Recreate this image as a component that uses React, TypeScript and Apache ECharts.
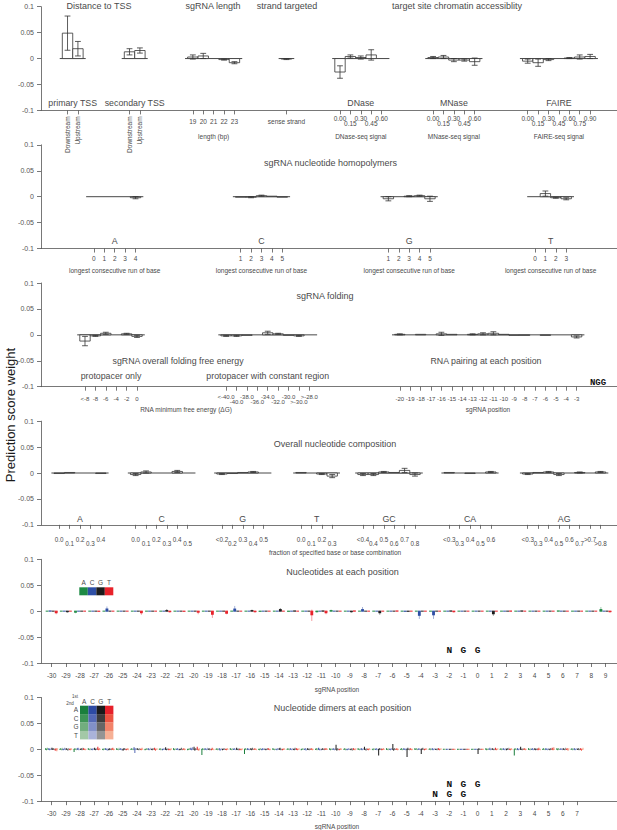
import React, { useEffect, useRef } from "react";
import * as echarts from "echarts";

// ---------------- DATA ----------------
// Panel 1 – Distance to TSS, sgRNA length, strand, chromatin accessibility
const primaryTssTicks = ["Downstream", "Upstream"];
const primaryTssValues = [0.049, 0.019];
const primaryTssErrors = [0.033, 0.014];
const secondaryTssTicks = ["Downstream", "Upstream"];
const secondaryTssValues = [0.013, 0.0155];
const secondaryTssErrors = [0.006, 0.005];
const lengthTicks = ["19", "20", "21", "22", "23"];
const lengthValues = [0.003, 0.005, 0.0, -0.002, -0.008];
const lengthErrors = [0.004, 0.005, 0, 0.001, 0.002];
const strandTicks = ["sense strand"];
const strandValues = [-0.001];
const strandErrors = [0.001];
const dnaseTicks = ["0.00", "0.15", "0.30", "0.45", "0.60"];
const dnaseValues = [-0.026, 0.004, 0.002, 0.007, 0.0];
const dnaseErrors = [0.012, 0.003, 0.003, 0.01, 0];
const mnaseTicks = ["0.00", "0.15", "0.30", "0.45", "0.60"];
const mnaseValues = [0.002, 0.003, -0.003, -0.003, -0.006];
const mnaseErrors = [0.002, 0.003, 0.003, 0.002, 0.007];
const faireTicks = ["0.00", "0.15", "0.30", "0.45", "0.60", "0.75", "0.90"];
const faireValues = [-0.005, -0.008, -0.002, 0.0, 0.001, 0.003, 0.004];
const faireErrors = [0.004, 0.007, 0.002, 0, 0.001, 0.004, 0.004];

// Panel 2 – homopolymers
const homoATicks = ["0", "1", "2", "3", "4"];
const homoAValues = [0, 0, 0, 0, -0.002];
const homoAErrors = [0, 0, 0, 0, 0.002];
const homoCTicks = ["1", "2", "3", "4", "5"];
const homoCValues = [-0.001, -0.001, 0.002, 0.001, -0.001];
const homoCErrors = [0, 0.001, 0.001, 0, 0];
const homoGTicks = ["1", "2", "3", "4", "5"];
const homoGValues = [-0.004, 0, 0.001, 0.002, -0.004];
const homoGErrors = [0.004, 0, 0.001, 0.001, 0.005];
const homoTTicks = ["0", "1", "2", "3"];
const homoTValues = [0, 0.006, -0.002, -0.004];
const homoTErrors = [0, 0.005, 0.001, 0.002];

// Panel 3 – folding
const foldOnlyTicks = ["<-8", "-8", "-6", "-4", "-2", "0"];
const foldOnlyValues = [-0.012, -0.002, 0.003, 0, 0.002, -0.003];
const foldOnlyErrors = [0.009, 0.001, 0.002, 0, 0.001, 0.002];
const foldConstTicks = ["<-40.0", "-40.0", "-38.0", "-36.0", "-34.0", "-32.0", "-30.0", ">-30.0", ">-28.0"];
const foldConstValues = [-0.002, -0.002, -0.001, 0, 0.004, 0.002, -0.001, -0.002, 0];
const foldConstErrors = [0.001, 0.001, 0, 0, 0.003, 0.001, 0, 0.001, 0];
const pairingTicks = ["-20", "-19", "-18", "-17", "-16", "-15", "-14", "-13", "-12", "-11", "-10", "-9", "-8", "-7", "-6", "-5", "-4", "-3"];
const pairingValues = [0.001, 0, 0.001, 0, 0.002, 0.001, 0, 0.001, 0.002, 0.003, 0.001, -0.001, -0.001, 0, -0.001, 0, 0, -0.004];
const pairingErrors = [0.001, 0, 0, 0, 0.003, 0, 0, 0.001, 0.002, 0.003, 0, 0, 0, 0, 0, 0, 0, 0.002];

// Panel 4 – overall composition
const compATicks = ["0.0", "0.1", "0.2", "0.3", "0.4"];
const compAValues = [-0.001, 0.001, 0, 0, -0.001];
const compAErrors = [0, 0, 0, 0, 0];
const compCTicks = ["0.0", "0.1", "0.2", "0.3", "0.4", "0.5"];
const compCValues = [-0.003, 0.002, 0, 0, 0.003, 0];
const compCErrors = [0.002, 0.002, 0, 0, 0.002, 0];
const compGTicks = ["<0.2", "0.2", "0.3", "0.4", "0.5"];
const compGValues = [-0.002, -0.001, 0.001, 0.002, 0];
const compGErrors = [0.001, 0, 0, 0.001, 0];
const compTTicks = ["0.0", "0.1", "0.2", "0.3"];
const compTValues = [0.001, 0, -0.002, -0.006];
const compTErrors = [0, 0, 0.001, 0.003];
const compGCTicks = ["<0.4", "0.4", "0.5", "0.6", "0.7", "0.8"];
const compGCValues = [-0.003, -0.003, 0.002, 0.001, 0.005, -0.003];
const compGCErrors = [0.002, 0.002, 0.001, 0, 0.004, 0.003];
const compCATicks = ["<0.3", "0.3", "0.4", "0.5", "0.6"];
const compCAValues = [0.001, 0, -0.001, 0, 0.002];
const compCAErrors = [0, 0, 0, 0, 0.001];
const compAGTicks = ["<0.3", "0.3", "0.4", "0.5", "0.6", "0.7", ">0.7", ">0.8"];
const compAGValues = [-0.002, 0.001, 0.002, -0.003, 0, 0.001, 0, 0.002];
const compAGErrors = [0.001, 0, 0.001, 0.002, 0, 0.001, 0, 0.001];

// Panel 5 – nucleotides at each position
const nucLetters = ["A", "C", "G", "T"];
const nucPositions = [-30, -29, -28, -27, -26, -25, -24, -23, -22, -21, -20, -19, -18, -17, -16, -15, -14, -13, -12, -11, -10, -9, -8, -7, -6, -5, -4, -3, -2, -1, 0, 1, 2, 3, 4, 5, 6, 7, 8, 9];
const nucAValues = [0, 0, -0.003, 0, 0, 0, 0, 0, 0, 0, 0, 0, 0, 0, 0, -0.001, 0, -0.001, 0, -0.002, 0.002, 0, 0, 0, 0, 0, 0, 0, 0, 0, 0, 0, 0, 0, 0, 0, 0.001, 0, 0, 0.004];
const nucCValues = [0.001, 0, 0, 0, 0.005, 0, 0, 0, 0, 0, 0, 0, 0, 0.005, 0, 0, 0, 0, 0, 0, 0, 0, 0.004, 0, 0, -0.001, -0.009, -0.008, 0, 0, 0, 0, 0, 0, 0, 0, 0, 0, 0, 0];
const nucGValues = [0, -0.002, 0, 0, 0, 0, 0, 0, 0.002, 0, 0, 0, 0, 0, 0.002, 0, 0.004, 0.001, 0, 0.001, 0, -0.002, 0, -0.004, 0, -0.001, 0, 0, 0.001, 0, 0, -0.006, 0, 0.001, 0, 0, 0, 0, 0, 0];
const nucTValues = [-0.004, 0, 0, -0.001, 0, 0, -0.004, 0, -0.002, -0.001, -0.003, -0.007, -0.005, 0, -0.002, 0, 0, 0, -0.008, -0.004, 0, 0.001, 0, 0, 0.001, 0, 0, 0, -0.002, 0, 0, 0, 0.001, 0, 0, 0, 0, 0, 0, -0.002];
const nucAErrors = [0, 0, 0.001, 0, 0, 0, 0, 0, 0, 0, 0, 0, 0, 0, 0, 0, 0, 0, 0, 0.001, 0.001, 0, 0, 0, 0, 0, 0, 0, 0, 0, 0, 0, 0, 0, 0, 0, 0, 0, 0, 0.004];
const nucCErrors = [0, 0, 0, 0, 0.004, 0, 0, 0, 0, 0, 0, 0, 0, 0.005, 0, 0, 0, 0, 0, 0, 0, 0, 0.004, 0, 0, 0, 0.006, 0.007, 0, 0, 0, 0, 0, 0, 0, 0, 0, 0, 0, 0];
const nucGErrors = [0, 0.001, 0, 0, 0, 0, 0, 0, 0.002, 0, 0, 0, 0, 0, 0.001, 0, 0.002, 0, 0, 0, 0, 0.001, 0, 0.003, 0, 0, 0, 0, 0, 0, 0, 0.003, 0, 0, 0, 0, 0, 0, 0, 0];
const nucTErrors = [0.002, 0, 0, 0, 0, 0, 0.003, 0, 0.001, 0, 0.003, 0.006, 0.001, 0, 0.001, 0, 0, 0, 0.011, 0.002, 0, 0, 0, 0, 0, 0, 0, 0, 0.001, 0, 0, 0, 0, 0, 0, 0, 0, 0, 0, 0.001];
const pamLetters = ["N", "G", "G"];
const pamPositions = [-2, -1, 0];

// Panel 6 – dimers at each position (weights x 1000); order AA AC AG AT CA CC CG CT GA GC GG GT TA TC TG TT
const dimerPositions = [-30, -29, -28, -27, -26, -25, -24, -23, -22, -21, -20, -19, -18, -17, -16, -15, -14, -13, -12, -11, -10, -9, -8, -7, -6, -5, -4, -3, -2, -1, 0, 1, 2, 3, 4, 5, 6, 7];
const dimerWeightsMilli = [
  [2, -2, 3, 0, 2, -2, 0, 3, 3, -1, 2, 0, -3, 2, -4, 2],
  [0, 2, -2, 3, -2, 0, 3, -2, 2, 0, -3, 2, 0, -2, 2, 0],
  [-5, 2, 0, -2, 2, 3, -2, 0, 0, 2, -2, 3, 2, 0, -2, 0],
  [2, 0, -2, 2, 0, -2, 2, 0, 3, -2, 0, 2, 5, -2, 2, 0],
  [0, -2, 2, 0, 2, 0, -3, 2, -2, 2, 0, -2, 2, 3, -2, 0],
  [2, 0, -2, 3, 0, 2, -2, 0, -3, 2, 2, 0, -2, 0, 2, -2],
  [0, 2, 0, -2, 4, -7, 2, 0, 2, 0, -2, 2, 0, -2, 3, 0],
  [-2, 0, 2, 0, 2, -2, 0, 3, 0, -2, 2, 0, 3, -3, 0, 2],
  [0, 2, -2, 0, -2, 0, 2, 0, 4, -2, 0, 2, -2, 0, -2, 2],
  [2, -2, 0, 2, 0, 2, -2, 0, -2, 0, 3, -2, 0, 2, -2, 0],
  [-2, 0, 2, 0, 3, -2, 4, 0, 5, -3, 2, 0, 5, -2, -3, 2],
  [-11, 2, 0, -2, 2, 0, -2, 3, 0, 2, -2, 0, -2, 3, 0, -2],
  [0, 2, -2, 0, 2, -3, 0, 2, -2, 0, 2, 0, 0, -2, 2, 0],
  [2, 0, -2, 2, 0, 2, 0, -2, 3, 0, -2, 2, -2, 0, -2, 2],
  [-9, 2, 0, -2, 2, 0, -2, 0, 2, -2, 3, 0, 0, 2, 0, -2],
  [0, -2, 2, 0, -2, 2, 0, 2, 0, -2, 0, 2, 2, 0, -2, 0],
  [2, 0, -2, 0, 0, -2, 2, 0, 2, 3, -2, 0, -2, 0, 2, 0],
  [0, 2, 0, -2, 2, 0, -2, 2, 0, -2, 3, 0, 2, -2, 0, 2],
  [-2, 0, 2, 0, 0, 2, -3, 0, 2, 0, -2, 2, 0, 2, -2, 0],
  [0, 2, -2, 2, 3, -2, 0, -3, 0, 2, 0, -2, 2, 0, 2, 0],
  [2, -2, 0, 2, 0, 2, -2, 0, 9, -3, 2, 0, -2, 0, 2, 0],
  [0, 2, -2, 0, -2, 0, 2, 0, 0, -2, 2, -3, 2, 0, -2, 2],
  [2, 0, -2, 0, 2, -2, 0, 2, 5, 0, -3, 2, 0, -2, 2, 0],
  [0, -2, 2, 0, 0, 2, -2, 0, -12, 2, 0, 2, -2, 0, 2, 0],
  [2, 0, -2, 2, 0, -2, 2, 0, 10, -3, 2, 0, 0, 2, -2, 0],
  [0, 2, -2, 0, 2, 0, -2, 2, -15, 3, 0, -2, 2, 0, -2, 0],
  [2, 0, 2, -2, 0, 2, 0, -2, -9, 2, 3, 0, -2, 0, 2, 0],
  [0, 2, -2, 0, 2, -2, 0, 2, 0, 0, -2, 2, 2, -2, 0, 2],
  [0, 0, 0, 0, 0, 0, 0, 0, 0, 0, 0, 0, 0, 0, 0, 0],
  [0, 0, 0, 0, 0, 0, 0, 0, 0, 0, 0, 0, 0, 0, 0, 0],
  [0, 0, 0, 0, 0, 0, 0, 0, -9, 2, 0, 0, 0, 0, 0, 0],
  [2, -2, 0, 2, 0, 3, -2, 0, 2, 0, -2, 0, 3, -2, 0, 2],
  [0, 2, -2, 0, 2, 0, -2, 2, -2, 2, 0, 3, 0, -2, 2, 0],
  [-12, 2, 0, -2, 2, -2, 0, 2, 5, 0, -2, 2, 0, 2, -2, 0],
  [2, 0, -2, 2, 0, 2, -2, 0, 2, -2, 0, 2, -2, 3, 0, -2],
  [0, 2, 0, -2, 2, 0, -2, 2, 0, -2, 2, 0, 3, -2, 4, 0],
  [2, -2, 2, 0, 0, 2, 0, -2, 2, 0, -2, 3, 0, 2, -3, 2],
  [0, 2, -2, 0, 2, -2, 0, 2, 0, 2, -2, 0, 2, -3, 0, 3],
];
const dimerPamRow1Positions = [-2, -1, 0];
const dimerPamRow2Positions = [-3, -2, -1];

// ---------------- STYLE / LAYOUT ----------------
const FONT = "'Liberation Sans', Arial, sans-serif";
const TXT = "#4a4a4a";
const AX = "#555";
const GRID_TOPS = [6.7, 144.85, 283, 421.15, 559.3, 697.45];
const GRID_H = 103.7;
const LEFT = 41;
const PLOT_W = 576;
const BAR_PX = 10.4;
const POS_PX = 14.2;
const BAR_MAX = PLOT_W / BAR_PX;
const POS_MIN = -30.75;
const POS_MAX = POS_MIN + PLOT_W / POS_PX;
const NUC_COLORS = ["#1e8a44", "#2e4fa5", "#1c1c1c", "#e8222a"];
const DIMER_COLORS = [
  ["#1a7f3c", "#3f9456", "#72ad7e", "#a3c8a7"],
  ["#2d4aa3", "#5469b6", "#8190c8", "#aab3da"],
  ["#1a1a1a", "#3c3c3c", "#666666", "#949494"],
  ["#e6202a", "#ec5442", "#f2836a", "#f6b095"],
];

type Grp = {
  name?: string; sub?: string; ticks: string[]; values: number[]; errors: number[];
  start: number; stagger?: boolean; rotate?: boolean;
};
type BarPanel = { labelLevel: number; L: number; m: number; fs: number; subOffset: number; groups: Grp[] };

const barPanels: BarPanel[] = [
  {
    labelLevel: -0.086, L: 5.7, m: 5, fs: 6.5, subOffset: 25.6,
    groups: [
      { name: "primary TSS", ticks: primaryTssTicks, values: primaryTssValues, errors: primaryTssErrors, start: 2.55, rotate: true },
      { name: "secondary TSS", ticks: secondaryTssTicks, values: secondaryTssValues, errors: secondaryTssErrors, start: 8.51, rotate: true },
      { sub: "length (bp)", ticks: lengthTicks, values: lengthValues, errors: lengthErrors, start: 14.6 },
      { ticks: strandTicks, values: strandValues, errors: strandErrors, start: 23.6 },
      { name: "DNase", sub: "DNase-seq signal", ticks: dnaseTicks, values: dnaseValues, errors: dnaseErrors, start: 28.75, stagger: true },
      { name: "MNase", sub: "MNase-seq signal", ticks: mnaseTicks, values: mnaseValues, errors: mnaseErrors, start: 37.7, stagger: true },
      { name: "FAIRE", sub: "FAIRE-seq signal", ticks: faireTicks, values: faireValues, errors: faireErrors, start: 46.8, stagger: true },
    ],
  },
  {
    labelLevel: -0.086, L: 5, m: 5, fs: 6.5, subOffset: 21.5,
    groups: [
      { name: "A", sub: "longest consecutive run of base", ticks: homoATicks, values: homoAValues, errors: homoAErrors, start: 5.09 },
      { name: "C", sub: "longest consecutive run of base", ticks: homoCTicks, values: homoCValues, errors: homoCErrors, start: 19.2 },
      { name: "G", sub: "longest consecutive run of base", ticks: homoGTicks, values: homoGValues, errors: homoGErrors, start: 33.4 },
      { name: "T", sub: "longest consecutive run of base", ticks: homoTTicks, values: homoTValues, errors: homoTErrors, start: 47.5 },
    ],
  },
  {
    labelLevel: -0.08, L: 5.2, m: 7.6, fs: 6, subOffset: 21,
    groups: [
      { name: "protopacer only", ticks: foldOnlyTicks, values: foldOnlyValues, errors: foldOnlyErrors, start: 4.23 },
      { name: "protopacer with constant region", ticks: foldConstTicks, values: foldConstValues, errors: foldConstErrors, start: 17.8, stagger: true },
      { ticks: pairingTicks, values: pairingValues, errors: pairingErrors, start: 34.5 },
    ],
  },
  {
    labelLevel: -0.088, L: 3.4, m: 13.3, fs: 6.3, subOffset: 27,
    groups: [
      { name: "A", ticks: compATicks, values: compAValues, errors: compAErrors, start: 1.75, stagger: true },
      { name: "C", ticks: compCTicks, values: compCValues, errors: compCErrors, start: 9.1, stagger: true },
      { name: "G", ticks: compGTicks, values: compGValues, errors: compGErrors, start: 17.4, stagger: true },
      { name: "T", ticks: compTTicks, values: compTValues, errors: compTErrors, start: 25, stagger: true },
      { name: "GC", ticks: compGCTicks, values: compGCValues, errors: compGCErrors, start: 30.96, stagger: true },
      { name: "CA", ticks: compCATicks, values: compCAValues, errors: compCAErrors, start: 39.25, stagger: true },
      { name: "AG", ticks: compAGTicks, values: compAGValues, errors: compAGErrors, start: 46.8, stagger: true },
    ],
  },
];

const textStyle = (text: string, size: number, extra: any = {}) => ({
  text, fontSize: size, fontFamily: FONT, fill: TXT,
  align: "center", verticalAlign: "middle", textAlign: "center", textVerticalAlign: "middle",
  ...extra,
});
const seg = (x1: number, y1: number, x2: number, y2: number, stroke: string, lineWidth: number, opacity = 1) => ({
  type: "line", shape: { x1, y1, x2, y2 }, style: { stroke, lineWidth, opacity },
});

function buildOption() {
  const grids = GRID_TOPS.map((t) => ({ left: LEFT, right: 0, top: t, height: GRID_H }));

  const yAxes = GRID_TOPS.map((_, i) => ({
    gridIndex: i, type: "value", min: -0.1, max: 0.1, interval: 0.05,
    axisLine: { show: true, onZero: false, lineStyle: { color: AX, width: 0.8 } },
    axisTick: { show: true, length: 4, lineStyle: { color: AX, width: 0.8 } },
    splitLine: { show: false },
    axisLabel: {
      fontSize: 7, color: "#555", fontFamily: FONT, margin: 7, showMinLabel: true, showMaxLabel: true,
      formatter: (v: number) => { const r = Math.round(v * 100) / 100; return r === 0 ? "0" : String(r); },
    },
  }));

  const baseX = (gridIndex: number, min: number, max: number) => ({
    gridIndex, type: "value", min, max, position: "bottom",
    axisLine: { show: true, onZero: false, lineStyle: { color: AX, width: 0.8 } },
    splitLine: { show: false },
  });
  const labelOnlyX = (gridIndex: number, vals: number[], map: Record<string, string>, extra: any) => ({
    ...baseX(gridIndex, 0, BAR_MAX),
    axisLine: { show: false, onZero: false },
    axisTick: { show: false },
    axisLabel: {
      customValues: vals, color: TXT, fontFamily: FONT, showMinLabel: true, showMaxLabel: true,
      formatter: (v: number) => map[(+v).toFixed(3)] || "",
      ...extra,
    },
  });

  const xAxes: any[] = [];
  const panelXIndex: number[] = [];
  barPanels.forEach((p, pi) => {
    const tickVals: number[] = [];
    const labVals: number[] = [];
    const labMap: Record<string, string> = {};
    const lowVals: number[] = [];
    const lowMap: Record<string, string> = {};
    const rotVals: number[] = [];
    const rotMap: Record<string, string> = {};
    p.groups.forEach((g) => g.ticks.forEach((t, k) => {
      const x = +(g.start + k).toFixed(3);
      const key = x.toFixed(3);
      tickVals.push(x);
      if (g.rotate) { rotVals.push(x); rotMap[key] = t; }
      else if (g.stagger && k % 2) { lowVals.push(x); lowMap[key] = t; }
      else { labVals.push(x); labMap[key] = g.stagger ? "{a|" + t + "}" : "{s|" + t + "}"; }
    }));
    panelXIndex.push(xAxes.length);
    xAxes.push({
      ...baseX(pi, 0, BAR_MAX),
      axisTick: { show: true, customValues: tickVals, length: 4, lineStyle: { color: AX, width: 0.8 } },
      axisLabel: {
        customValues: labVals, margin: p.m, lineHeight: p.L, fontSize: p.fs, color: TXT, fontFamily: FONT,
        showMinLabel: true, showMaxLabel: true,
        formatter: (v: number) => labMap[(+v).toFixed(3)] || "",
        rich: {
          a: { fontSize: p.fs, lineHeight: p.L, color: TXT, fontFamily: FONT },
          s: { fontSize: p.fs, lineHeight: p.L * 2, color: TXT, fontFamily: FONT },
        },
      },
    });
    if (lowVals.length) {
      xAxes.push(labelOnlyX(pi, lowVals, lowMap, { margin: p.m + p.L, lineHeight: p.L, fontSize: p.fs }));
    }
    if (rotVals.length) {
      xAxes.push(labelOnlyX(pi, rotVals, rotMap, { rotate: 90, margin: 6, fontSize: 6.5 }));
    }
  });
  const posAxis = (gi: number, positions: number[]) => ({
    ...baseX(gi, POS_MIN, POS_MAX),
    axisTick: { show: true, customValues: positions, length: 4, lineStyle: { color: AX, width: 0.8 } },
    axisLabel: {
      customValues: positions, margin: 8, lineHeight: 8, fontSize: 6.5, color: TXT, fontFamily: FONT,
      showMinLabel: true, showMaxLabel: true,
      formatter: (v: number) => String(Math.round(v)),
    },
  });
  const nucX = xAxes.length; xAxes.push(posAxis(4, nucPositions));
  const dimX = xAxes.length; xAxes.push(posAxis(5, dimerPositions));

  const series: any[] = [];
  barPanels.forEach((p, pi) => {
    series.push({
      type: "custom", xAxisIndex: panelXIndex[pi], yAxisIndex: pi, clip: false, silent: true,
      data: p.groups.map((g) => [g.start, g.ticks.length]),
      renderItem: (params: any, api: any) => {
        const g = p.groups[params.dataIndex];
        const s = api.value(0) as number, n = api.value(1) as number;
        const a = api.coord([s - 0.75, 0]);
        const b = api.coord([s + n - 1 + 0.75, 0]);
        const ch: any[] = [seg(a[0], a[1], b[0], b[1], "#333", 0.9)];
        const c = api.coord([s + (n - 1) / 2, p.labelLevel]);
        if (g.name) ch.push({ type: "text", x: c[0], y: c[1], style: textStyle(g.name, 8.8) });
        if (g.sub) {
          const axisY = api.coord([s, -0.1])[1];
          ch.push({ type: "text", x: c[0], y: axisY + p.subOffset, style: textStyle(g.sub, 6.5) });
        }
        return { type: "group", children: ch };
      },
    });
    const bars: number[][] = [];
    p.groups.forEach((g) => g.values.forEach((v, k) => bars.push([g.start + k, v, g.errors[k]])));
    series.push({
      type: "custom", xAxisIndex: panelXIndex[pi], yAxisIndex: pi, clip: false, silent: true,
      data: bars,
      renderItem: (_params: any, api: any) => {
        const x = api.value(0), v = api.value(1), e = api.value(2);
        const p0 = api.coord([x - 0.5, 0]);
        const p1 = api.coord([x + 0.5, v]);
        const ch: any[] = [];
        const h = Math.abs(p1[1] - p0[1]);
        if (h > 0.2) ch.push({
          type: "rect", shape: { x: p0[0], y: Math.min(p0[1], p1[1]), width: p1[0] - p0[0], height: h },
          style: { fill: "#fff", stroke: "#333", lineWidth: 0.8 },
        });
        if (e > 0) {
          const t = api.coord([x, v + e]), b = api.coord([x, v - e]);
          const cw = api.size([0.28, 0])[0];
          ch.push(seg(t[0], t[1], b[0], b[1], "#333", 0.8));
          ch.push(seg(t[0] - cw, t[1], t[0] + cw, t[1], "#333", 0.8));
          ch.push(seg(b[0] - cw, b[1], b[0] + cw, b[1], "#333", 0.8));
        }
        return { type: "group", children: ch };
      },
    });
  });

  // Panel 5 nucleotides
  const nucVals = [nucAValues, nucCValues, nucGValues, nucTValues];
  const nucErrs = [nucAErrors, nucCErrors, nucGErrors, nucTErrors];
  const nucOff = [-0.32, -0.107, 0.107, 0.32];
  const nucData: number[][] = [];
  nucPositions.forEach((pos, i) => nucVals.forEach((arr, n) => nucData.push([pos + nucOff[n], arr[i], nucErrs[n][i], n])));
  series.push({
    type: "custom", xAxisIndex: nucX, yAxisIndex: 4, clip: false, silent: true, data: nucData,
    renderItem: (_params: any, api: any) => {
      const x = api.value(0), v = api.value(1), e = api.value(2), n = api.value(3);
      const col = NUC_COLORS[n];
      const w = 0.2;
      const p0 = api.coord([x - w / 2, 0]), p1 = api.coord([x + w / 2, v]);
      const ch: any[] = [];
      if (e > 0) {
        const t = api.coord([x, v + e]), b = api.coord([x, v - e]);
        ch.push(seg(t[0], t[1], b[0], b[1], col, 0.8, 0.55));
      }
      const h = Math.abs(p1[1] - p0[1]);
      if (h > 0.1) ch.push({ type: "rect", shape: { x: p0[0], y: Math.min(p0[1], p1[1]), width: p1[0] - p0[0], height: h }, style: { fill: col } });
      ch.push(seg(p0[0], p0[1], p1[0], p0[1], col, 1));
      return { type: "group", children: ch };
    },
  });
  const pamRender = (letters: string[]) => (params: any, api: any) => {
    const c = api.coord([api.value(0), api.value(1)]);
    return {
      type: "text", x: c[0], y: c[1],
      style: textStyle(letters[params.dataIndex % letters.length], 9.5, { fontFamily: "'Liberation Mono', 'DejaVu Sans Mono', monospace", fontWeight: "bold", fill: "#111" }),
    };
  };
  series.push({
    type: "custom", xAxisIndex: nucX, yAxisIndex: 4, clip: false, silent: true,
    data: pamPositions.map((p) => [p, -0.075]), renderItem: pamRender(pamLetters),
  });

  // Panel 6 dimers
  const dimData: number[][] = [];
  dimerPositions.forEach((pos, i) => dimerWeightsMilli[i].forEach((w, j) => dimData.push([pos + (j - 7.5) * 0.056, w / 1000, j])));
  series.push({
    type: "custom", xAxisIndex: dimX, yAxisIndex: 5, clip: false, silent: true, data: dimData,
    renderItem: (_params: any, api: any) => {
      const x = api.value(0), v = api.value(1), j = api.value(2);
      const col = DIMER_COLORS[Math.floor(j / 4)][j % 4];
      const w = 0.056;
      const p0 = api.coord([x - w / 2, 0]), p1 = api.coord([x + w / 2, v]);
      const ch: any[] = [];
      const h = Math.abs(p1[1] - p0[1]);
      if (h > 0.1) ch.push({ type: "rect", shape: { x: p0[0] - 0.1, y: Math.min(p0[1], p1[1]), width: Math.max(1, p1[0] - p0[0]), height: h }, style: { fill: col } });
      ch.push(seg(p0[0], p0[1], p1[0], p0[1], col, 1.2));
      return { type: "group", children: ch };
    },
  });
  series.push({
    type: "custom", xAxisIndex: dimX, yAxisIndex: 5, clip: false, silent: true,
    data: dimerPamRow1Positions.map((p) => [p, -0.0686]).concat(dimerPamRow2Positions.map((p) => [p, -0.088])),
    renderItem: pamRender(pamLetters),
  });

  // Graphic texts
  const gtexts: [string, number, number, number][] = [
    ["Distance to TSS", 99, 5.5, 9],
    ["sgRNA length", 213, 5.5, 9],
    ["strand targeted", 287, 5.5, 9],
    ["target site chromatin accessiblity", 457, 5.5, 9],
    ["sgRNA nucleotide homopolymers", 330.5, 163, 9],
    ["sgRNA folding", 325, 296, 9],
    ["sgRNA overall folding free energy", 178, 361, 8.8],
    ["RNA pairing at each position", 486, 361, 8.8],
    ["RNA minimum free energy (\u0394G)", 186, 409, 6.5],
    ["sgRNA position", 488, 409, 6.5],
    ["Overall nucleotide composition", 335, 444, 9],
    ["fraction of specified base or base combination", 335, 552, 6.5],
    ["Nucleotides at each position", 342.5, 572, 9],
    ["sgRNA position", 337, 689.3, 6.5],
    ["Nucleotide dimers at each position", 342.5, 708, 9],
    ["sgRNA position", 337, 826, 6.5],
  ];
  const elements: any[] = gtexts.map(([t, x, y, s]) => ({ type: "text", x, y, silent: true, style: textStyle(t, s) }));
  elements.push({
    type: "text", x: 10, y: 415, rotation: Math.PI / 2, silent: true,
    style: textStyle("Prediction score weight", 13, { fill: "#1a1a1a" }),
  });
  elements.push({
    type: "text", x: 598, y: 383, silent: true,
    style: textStyle("NGG", 9, { fontFamily: "'Liberation Mono', 'DejaVu Sans Mono', monospace", fontWeight: "bold", fill: "#111" }),
  });
  // nucleotide legend
  nucLetters.forEach((l, i) => {
    elements.push({ type: "rect", silent: true, shape: { x: 79.3 + i * 8.5, y: 587.3, width: 8.5, height: 8 }, style: { fill: NUC_COLORS[i] } });
    elements.push({ type: "text", x: 83.55 + i * 8.5, y: 582.7, silent: true, style: textStyle(l, 6.5) });
  });
  // dimer legend
  nucLetters.forEach((l, i) => {
    elements.push({ type: "text", x: 84.2 + i * 8.33, y: 701.6, silent: true, style: textStyle(l, 6.5) });
    elements.push({ type: "text", x: 76, y: 709.9 + i * 8.4, silent: true, style: textStyle(l, 6.5) });
    nucLetters.forEach((_m, j) => {
      elements.push({ type: "rect", silent: true, shape: { x: 80 + i * 8.33, y: 705.7 + j * 8.4, width: 8.4, height: 8.5 }, style: { fill: DIMER_COLORS[i][j] } });
    });
  });
  elements.push({ type: "text", x: 75, y: 696.3, silent: true, style: textStyle("1st", 4.5) });
  elements.push({ type: "text", x: 70, y: 703, silent: true, style: textStyle("2nd", 4.5) });

  return {
    animation: false,
    backgroundColor: "#fff",
    textStyle: { fontFamily: FONT },
    grid: grids,
    xAxis: xAxes,
    yAxis: yAxes,
    series,
    graphic: { elements },
  };
}

export default function App() {
  const ref = useRef<HTMLDivElement>(null);
  useEffect(() => {
    document.body.style.margin = "0";
    const chart = echarts.init(ref.current as HTMLDivElement, null, { renderer: "svg" });
    chart.setOption(buildOption() as any);
    return () => chart.dispose();
  }, []);
  return <div ref={ref} style={{ width: 617, height: 830 }} />;
}
